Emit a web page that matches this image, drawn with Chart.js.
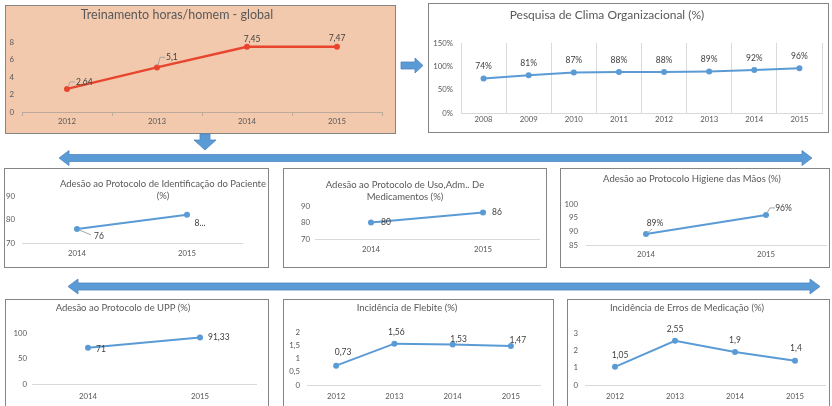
<!DOCTYPE html>
<html>
<head>
<meta charset="utf-8">
<script src="https://cdn.jsdelivr.net/npm/chart.js@4.4.1/dist/chart.umd.min.js"></script>
<style>
  html, body { margin: 0; padding: 0; background: #fff; }
  body { position: relative; width: 832px; height: 406px; overflow: hidden; font-family: Lato, "Open Sans", sans-serif; }
  .panel { position: absolute; box-sizing: border-box; border: 1px solid #858585; background: #fff; }
  .panel.peach { background: #F2C9AC; }
  canvas { position: absolute; }
  .title { position: absolute; text-align: center; color: #595959; white-space: nowrap; }
  svg.arrows { position: absolute; left: 0; top: 0; }
</style>
</head>
<body>
<svg class="arrows" id="arrows" width="832" height="406"></svg>
<script>
// ---------- data ----------
const treinoAnos = ['2012', '2013', '2014', '2015'];
const treinoHoras = [2.64, 5.1, 7.45, 7.47];
const treinoTicks = [0, 2, 4, 6, 8];

const climaAnos = ['2008', '2009', '2010', '2011', '2012', '2013', '2014', '2015'];
const climaPct = [74, 81, 87, 88, 88, 89, 92, 96];
const climaTicks = [0, 50, 100, 150];

const pacienteAnos = ['2014', '2015'];
const pacienteAdesao = [76, 82];
const pacienteTicks = [70, 80, 90];

const medicAnos = ['2014', '2015'];
const medicAdesao = [80, 86];
const medicTicks = [70, 80, 90];

const maosAnos = ['2014', '2015'];
const maosAdesao = [89, 96];
const maosTicks = [85, 90, 95, 100];

const uppAnos = ['2014', '2015'];
const uppAdesao = [71, 91.33];
const uppTicks = [0, 50, 100];

const flebiteAnos = ['2012', '2013', '2014', '2015'];
const flebiteInc = [0.73, 1.56, 1.53, 1.47];
const flebiteTicks = [0, 0.5, 1, 1.5, 2];

const errosAnos = ['2012', '2013', '2014', '2015'];
const errosInc = [1.05, 2.55, 1.9, 1.4];
const errosTicks = [0, 1, 2, 3];

// ---------- helpers ----------
const FONT = 'Lato, "Open Sans", sans-serif';
const BLUE = '#5B9BD5';
const RED = '#E8452F';
const comma = v => String(v).replace('.', ',');
const pct = v => v + '%';

function valueLabelPlugin(pos, format, size) {
  return {
    id: 'valueLabels',
    afterDatasetsDraw(chart) {
      const meta = chart.getDatasetMeta(0);
      const values = chart.data.datasets[0].data;
      const ctx = chart.ctx;
      ctx.save();
      ctx.font = size + 'px ' + FONT;
      ctx.fillStyle = '#404040';
      ctx.textBaseline = 'middle';
      meta.data.forEach((pt, i) => {
        const p = pos[i];
        if (p.leader) {
          ctx.beginPath();
          ctx.strokeStyle = '#A6A6A6';
          ctx.lineWidth = 1;
          p.leader.forEach(([lx, ly], k) => {
            if (k === 0) ctx.moveTo(pt.x + lx, pt.y + ly);
            else ctx.lineTo(pt.x + lx, pt.y + ly);
          });
          ctx.stroke();
        }
        ctx.textAlign = p.align || 'center';
        ctx.fillText(format(values[i], i), pt.x + p.dx, pt.y + p.dy);
      });
      ctx.restore();
    }
  };
}

function addTitle(lines, cx, cy, size, lh) {
  const d = document.createElement('div');
  d.className = 'title';
  d.style.fontSize = size + 'px';
  d.style.lineHeight = lh + 'px';
  d.style.left = (cx - 200) + 'px';
  d.style.width = '400px';
  d.style.top = (cy - lh / 2) + 'px';
  d.innerHTML = lines.map(t => t.replace(/&/g, '&amp;')).join('<br>');
  document.body.appendChild(d);
}

// box: panel [x, y, w, h]; plot: [left, top, right, bottom] in page pixels
function lineChart(cfg) {
  const [x, y, w, h] = cfg.box;
  const [l, t, r, b] = cfg.plot;
  const panel = document.createElement('div');
  panel.className = 'panel' + (cfg.peach ? ' peach' : '');
  Object.assign(panel.style, { left: x + 'px', top: y + 'px', width: w + 'px', height: h + 'px' });
  document.body.appendChild(panel);

  const canvas = document.createElement('canvas');
  canvas.width = w; canvas.height = h;
  Object.assign(canvas.style, { left: x + 'px', top: y + 'px', width: w + 'px', height: h + 'px' });
  document.body.appendChild(canvas);

  const tickFont = { family: FONT, size: cfg.tickSize || 7.8 };
  new Chart(canvas, {
    type: 'line',
    data: {
      labels: cfg.labels,
      datasets: [{
        data: cfg.values,
        borderColor: cfg.color,
        backgroundColor: cfg.color,
        pointBackgroundColor: cfg.color,
        pointBorderColor: cfg.color,
        pointBorderWidth: 0,
        pointRadius: cfg.pointRadius || 3,
        borderWidth: cfg.lineWidth || 2,
        tension: 0
      }]
    },
    options: {
      responsive: false,
      animation: false,
      devicePixelRatio: 1,
      layout: { padding: { left: 0, top: t - y, right: x + w - r, bottom: 0 } },
      plugins: { legend: { display: false }, title: { display: false }, tooltip: { enabled: false } },
      scales: {
        x: {
          offset: true,
          grid: cfg.xGrid || { display: false, drawTicks: false },
          border: { display: true, color: cfg.axisColor || '#D9D9D9', width: 1 },
          ticks: { font: tickFont, color: '#595959', padding: cfg.xPad, maxRotation: 0, autoSkip: false },
          afterFit: s => { s.height = y + h - b; }
        },
        y: {
          min: cfg.ticks[0],
          max: cfg.ticks[cfg.ticks.length - 1],
          afterBuildTicks: s => { s.ticks = cfg.ticks.map(v => ({ value: v })); },
          grid: { display: false, drawTicks: false },
          border: { display: false },
          ticks: { font: tickFont, color: '#595959', padding: cfg.yPad, callback: cfg.tickFormat },
          afterFit: s => { s.width = l - x; }
        }
      }
    },
    plugins: [valueLabelPlugin(cfg.pos, cfg.format, cfg.labelSize || 8.5)]
  });
}

// ---------- charts ----------
lineChart({
  box: [5, 5, 391, 129], plot: [22, 42, 382, 112], peach: true,
  labels: treinoAnos, values: treinoHoras, ticks: treinoTicks, tickFormat: v => v,
  color: RED, lineWidth: 2.5, yPad: 8, xPad: 1, axisColor: '#BDAA9C',
  xGrid: { display: true, drawOnChartArea: false, drawTicks: true, tickLength: 4, offset: true, color: '#BDAA9C' },
  format: comma,
  pos: [
    { dx: 9, dy: -7, align: 'left', leader: [[1, -2], [3, -7], [8, -7]] },
    { dx: 9, dy: -10, align: 'left', leader: [[1, -2], [3, -10], [8, -10]] },
    { dx: 5, dy: -8 },
    { dx: 0, dy: -8 }
  ]
});
addTitle(['Treinamento horas/homem - global'], 177, 15, 12.5, 16);

lineChart({
  box: [428, 3, 401, 130], plot: [461, 43, 822, 113],
  labels: climaAnos, values: climaPct, ticks: climaTicks, tickFormat: pct,
  color: BLUE, lineWidth: 2, yPad: 8, xPad: 2,
  xGrid: { display: true, drawOnChartArea: true, drawTicks: false, offset: true, color: '#D9D9D9' },
  format: pct,
  pos: climaPct.map(() => ({ dx: 0, dy: -12 }))
});
addTitle(['Pesquisa de Clima Organizacional (%)'], 607, 15, 12, 16);

lineChart({
  box: [4, 168, 265, 100], plot: [22, 196, 242, 243],
  labels: pacienteAnos, values: pacienteAdesao, ticks: pacienteTicks, tickFormat: v => v,
  color: BLUE, lineWidth: 2, yPad: 7, xPad: 6,
  format: (v, i) => i === 1 ? String(v).slice(0, 1) + '...' : comma(v),
  pos: [
    { dx: 22, dy: 7, leader: [[2, 1], [14, 6]] },
    { dx: 13, dy: 8 }
  ]
});
addTitle(['Adesão ao Protocolo de Identificação do Paciente', '(%)'], 163, 184, 9.5, 12);

lineChart({
  box: [283, 168, 264, 100], plot: [315, 206, 539, 239],
  labels: medicAnos, values: medicAdesao, ticks: medicTicks, tickFormat: v => v,
  color: BLUE, lineWidth: 2, yPad: 5, xPad: 5.5,
  format: comma,
  pos: [{ dx: 15, dy: 0 }, { dx: 14, dy: 0 }]
});
addTitle(['Adesão ao Protocolo de Uso,Adm.. De', 'Medicamentos (%)'], 405, 185, 9.5, 12);

lineChart({
  box: [560, 168, 270, 100], plot: [586, 204, 826, 245],
  labels: maosAnos, values: maosAdesao, ticks: maosTicks, tickFormat: v => v,
  color: BLUE, lineWidth: 2, yPad: 8, xPad: 4.5,
  format: pct,
  pos: [
    { dx: 9, dy: -11, leader: [[1, -1], [6, -5]] },
    { dx: 17.5, dy: -6.5, leader: [[1, -2], [4, -7], [9, -7]] }
  ]
});
addTitle(['Adesão ao Protocolo Higiene das Mãos (%)'], 692, 179, 9.5, 12);

lineChart({
  box: [5, 299, 264, 110], plot: [32, 333, 256, 384],
  labels: uppAnos, values: uppAdesao, ticks: uppTicks, tickFormat: v => v,
  color: BLUE, lineWidth: 2, yPad: 5, xPad: 7.5,
  format: comma,
  pos: [{ dx: 13, dy: 1 }, { dx: 8, dy: 0, align: 'left' }]
});
addTitle(['Adesão ao Protocolo de UPP (%)'], 123, 308, 9.5, 12);

lineChart({
  box: [283, 299, 271, 110], plot: [307, 332, 540, 385],
  labels: flebiteAnos, values: flebiteInc, ticks: flebiteTicks, tickFormat: comma,
  color: BLUE, lineWidth: 2, yPad: 7, xPad: 6.5,
  format: comma,
  pos: [{ dx: 7, dy: -13 }, { dx: 2, dy: -11 }, { dx: 6, dy: -5 }, { dx: 7, dy: -6 }]
});
addTitle(['Incidência de Flebite (%)'], 407, 308, 9.5, 12);

lineChart({
  box: [567, 299, 263, 110], plot: [585, 333, 825, 385],
  labels: errosAnos, values: errosInc, ticks: errosTicks, tickFormat: v => v,
  color: BLUE, lineWidth: 2, yPad: 7, xPad: 6.5,
  format: comma,
  pos: [{ dx: 5, dy: -12 }, { dx: 0, dy: -12 }, { dx: 0, dy: -12 }, { dx: 1, dy: -12 }]
});
addTitle(['Incidência de Erros de Medicação (%)'], 687, 308, 9.5, 12);

// ---------- connector arrows ----------
(function drawArrows() {
  const svg = document.getElementById('arrows');
  document.body.appendChild(svg);
  const shapes = [
    // right arrow between the two top panels
    '401,62 415,62 415,58 423,65.5 415,73 415,69 401,69',
    // down arrow under the training panel
    '200,134 210,134 210,140 216,140 205,150 194,140 200,140',
    // double arrows across the page
    '59,158 69,150.5 69,154.5 802,154.5 802,150.5 812,158 802,165.5 802,161.5 69,161.5 69,165.5',
    '68,286.5 78,279 78,283 810,283 810,279 820,286.5 810,294 810,290 78,290 78,294'
  ];
  shapes.forEach(pts => {
    const p = document.createElementNS('http://www.w3.org/2000/svg', 'polygon');
    p.setAttribute('points', pts);
    p.setAttribute('fill', BLUE);
    p.setAttribute('stroke', '#4F87C2');
    p.setAttribute('stroke-width', '0.8');
    svg.appendChild(p);
  });
})();
</script>
</body>
</html>
